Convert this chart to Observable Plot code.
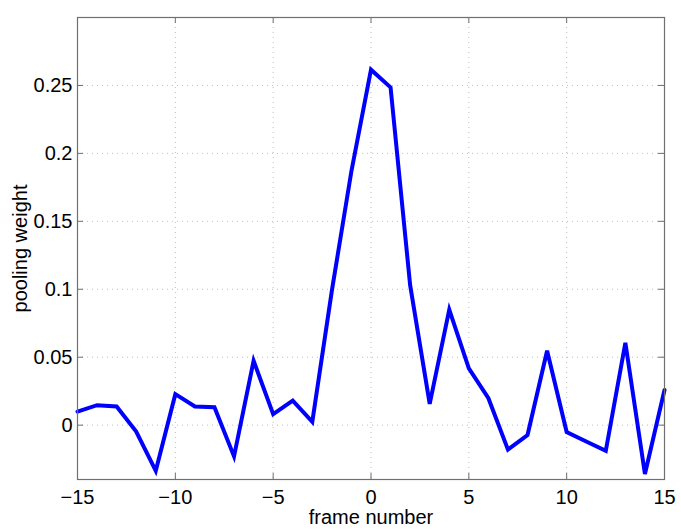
<!DOCTYPE html>
<html>
<head>
<meta charset="utf-8">
<script src="https://cdn.jsdelivr.net/npm/d3@7"></script>
<script src="https://cdn.jsdelivr.net/npm/@observablehq/plot@0.6"></script>
<style>
  html, body { margin: 0; padding: 0; background: #fff; }
</style>
</head>
<body>
<div id="chart"></div>
<script>
const frames = d3.range(-15, 16);
const weights = [0.010, 0.0147, 0.0137, -0.0047, -0.0336, 0.0228, 0.0137, 0.0132, -0.023, 0.0474,
  0.0081, 0.018, 0.0024, 0.099, 0.187, 0.2616, 0.2486, 0.103, 0.0156, 0.085,
  0.0418, 0.0198, -0.018, -0.0073, 0.0548, -0.0051, -0.012, -0.0189, 0.0606, -0.036, 0.0259];
const xTicks = [-15, -10, -5, 0, 5, 10, 15];
const yTicks = [0, 0.05, 0.1, 0.15, 0.2, 0.25];
const xLabel = "frame number";
const yLabel = "pooling weight";

const data = frames.map((f, i) => ({frame: f, weight: weights[i]}));

const W = 681, H = 531, mL = 77, mR = 17, mT = 17, mB = 52;
const pw = W - mL - mR, ph = H - mT - mB;
const axisColor = "#6f6f6f";
const fmt = d => String(d).replace("-", "\u2212");
const font = "'Liberation Sans', Arial, Helvetica, sans-serif";

const chart = Plot.plot({
  width: W, height: H,
  marginLeft: mL, marginRight: mR, marginTop: mT, marginBottom: mB,
  style: {fontFamily: font, fontSize: "20px", color: "#000", background: "#fff"},
  x: {domain: [-15, 15], axis: null},
  y: {domain: [-0.04, 0.3], axis: null},
  marks: [
    Plot.gridX(xTicks, {stroke: "#bdbdbd", strokeOpacity: 1, strokeDasharray: "1,4"}),
    Plot.gridY(yTicks, {stroke: "#bdbdbd", strokeOpacity: 1, strokeDasharray: "1,4"}),
    Plot.text(xTicks, {x: d => d, frameAnchor: "bottom", dy: 10, lineAnchor: "top", text: fmt, fontSize: 20, fontFamily: font, fill: "#000"}),
    Plot.text(yTicks, {y: d => d, frameAnchor: "left", dx: -5, textAnchor: "end", lineAnchor: "middle", text: fmt, fontSize: 20, fontFamily: font, fill: "#000"}),
    Plot.tickX(xTicks, {x: d => d, insetTop: ph - 6, stroke: axisColor}),
    Plot.tickX(xTicks, {x: d => d, insetBottom: ph - 6, stroke: axisColor}),
    Plot.tickY(yTicks, {y: d => d, insetRight: pw - 6, stroke: axisColor}),
    Plot.tickY(yTicks, {y: d => d, insetLeft: pw - 6, stroke: axisColor}),
    Plot.line(data, {x: "frame", y: "weight", stroke: "#0000ff", strokeWidth: 4, strokeLinejoin: "miter", strokeMiterlimit: 4}),
    Plot.frame({stroke: axisColor, strokeWidth: 1.2}),
    Plot.text([xLabel], {frameAnchor: "bottom", dy: 44, textAnchor: "middle", lineAnchor: "bottom", text: d => d, fontSize: 20, fill: "#000"}),
    Plot.text([yLabel], {frameAnchor: "left", dx: -51, rotate: -90, textAnchor: "middle", lineAnchor: "bottom", text: d => d, fontSize: 20, fill: "#000"})
  ]
});
document.getElementById("chart").appendChild(chart);
</script>
</body>
</html>
